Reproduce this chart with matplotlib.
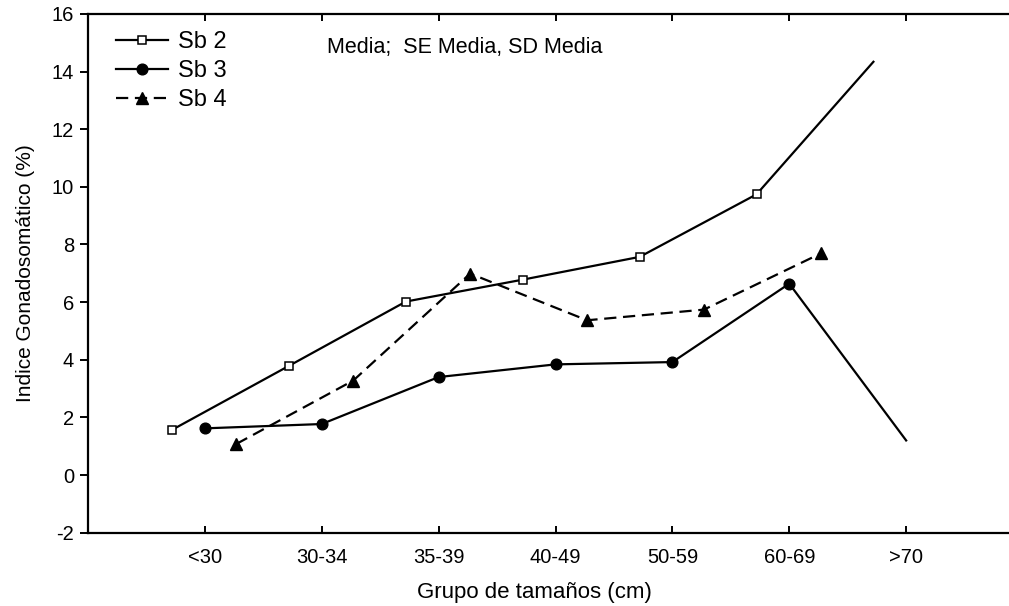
import numpy as np
import matplotlib
matplotlib.use('Agg')
import matplotlib.pyplot as plt

plt.rcParams['font.family'] = ['Liberation Sans', 'DejaVu Sans']
plt.rcParams['axes.unicode_minus'] = False

# Gonadosomatic index by size class, one series per subarea
grupos = ['<30', '30-34', '35-39', '40-49', '50-59', '60-69', '>70']
sb2 = [1.57, 3.79, 6.02, 6.78, 7.57, 9.74, 14.34]
sb3 = [1.62, 1.77, 3.40, 3.84, 3.92, 6.64, 1.20]
sb4 = [1.08, 3.28, 6.99, 5.37, 5.74, 7.69, np.nan]

x = np.arange(1, len(grupos) + 1)

fig = plt.figure(figsize=(10.09, 6.06), dpi=100)
ax = fig.add_axes([0.0872, 0.121, 0.9128, 0.856])

# small horizontal offsets so the three series don't overlap
ax.plot(x - 0.28, sb2, color='black', lw=1.6, marker='s', ms=5.3,
        mfc='white', mec='black', mew=1.1, markevery=list(range(6)), label='Sb 2')
ax.plot(x, sb3, color='black', lw=1.6, marker='o', ms=7.7,
        markevery=list(range(6)), label='Sb 3')
ax.plot(x + 0.27, sb4, color='black', lw=1.6, ls=(0, (5.5, 3)), marker='^', ms=8.5,
        label='Sb 4')

ax.set_xlim(0, 7.88)
ax.set_ylim(-2, 16)
ax.set_yticks(np.arange(-2, 17, 2))
ax.set_xticks(x)
ax.set_xticklabels(grupos)

for s in ['left', 'top', 'bottom']:
    ax.spines[s].set_linewidth(1.6)
ax.spines['right'].set_visible(False)

ax.tick_params(axis='y', direction='out', length=6, width=1.4, labelsize=14.5, pad=4)
ax.tick_params(axis='x', direction='in', length=5, width=1.4, labelsize=14.5, pad=11,
               top=True)

ax.set_xlabel('Grupo de tamaños (cm)', fontsize=16)
ax.xaxis.set_label_coords(0.485, -0.096)
ax.set_ylabel('Indice Gonadosomático (%)', fontsize=15, labelpad=12)

ax.text(0.26, 0.935, 'Media;  SE Media, SD Media', transform=ax.transAxes,
        fontsize=15.5, va='center', ha='left')

ax.legend(loc='upper left', bbox_to_anchor=(0.02, 0.985), frameon=False,
          fontsize=17, handlelength=2.2, handletextpad=0.45, labelspacing=0.3,
          borderaxespad=0)

fig.savefig('out.png', dpi=100)
